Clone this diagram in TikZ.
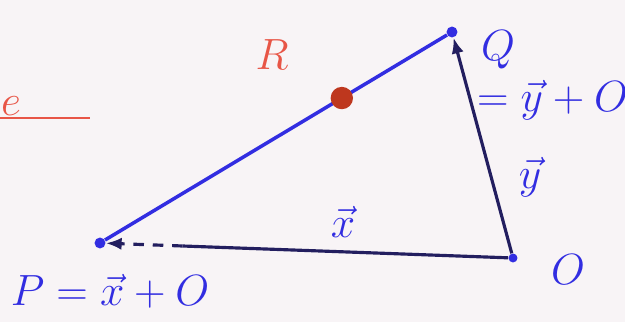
\documentclass[tikz,border=0pt]{standalone}
\usepackage{amsmath}
\usetikzlibrary{arrows.meta, calc}

\definecolor{penblue}{RGB}{50,45,225}
\definecolor{penred}{RGB}{232,85,70}
\definecolor{dotred}{RGB}{190,55,30}
\definecolor{ink}{RGB}{35,30,95}
\definecolor{paper}{RGB}{248,244,246}

\begin{document}
\begin{tikzpicture}[
  pt/.style={circle, fill=penblue, inner sep=2.2pt},
  lbl/.style={text=penblue, font=\fontsize{26}{30}\selectfont},
  big/.style={font=\fontsize{34}{38}\selectfont},
  vec/.style={draw=ink, line width=1.8pt, -{Latex[length=9pt,width=7pt]}}
]

  % Paper
  \fill[paper] (0,0) rectangle (12.5,6.44);
  \useasboundingbox (0,0) rectangle (12.5,6.44);

  % Points
  \node[pt] (P) at (2.0,1.58) {};
  \node[pt] (Q) at (9.04,5.80) {};
  \node[pt, inner sep=1.8pt] (O) at (10.26,1.28) {};

  % Line through P and Q, with R on it
  \draw[penblue, line width=2pt] (P) -- (Q);
  \node[circle, fill=dotred, inner sep=4.5pt] (R) at ($(P)!0.687!(Q)$) {};

  % Vectors
  \coordinate (mid) at ($(O)!0.8!(P)$);
  \draw[vec] (O) -- (Q);
  \draw[ink, line width=1.8pt] (O) -- (mid);
  \draw[vec, dash pattern=on 6pt off 5pt] (mid) -- (P);

  % Labels
  \node[lbl, big, text=penred] (Rlbl) at (5.44,5.34) {$R$};
  \node[lbl, big] (Qlbl) at (9.96,5.45) {$Q$};
  \node[lbl] (Qeq) at (11.05,4.44) {$=\vec{y}+O$};
  \node[lbl] (ylbl) at (10.6,2.9) {$\vec{y}$};
  \node[lbl] (xlbl) at (6.86,2.0) {$\vec{x}$};
  \node[lbl, big] (Olbl) at (11.36,1.04) {$O$};
  \node[lbl] (Plbl) at (2.2,0.62) {$P=\vec{x}+O$};

  % Red mark at the left edge
  \node[lbl, big, text=penred, anchor=south west, inner sep=0.5pt] (elbl) at (0,4.1) {$e$};
  \coordinate (u1) at (0,4.08);
  \coordinate (u2) at (1.8,4.08);
  \draw[penred, line width=1.6pt] (u1) -- (u2);

\end{tikzpicture}
\end{document}
